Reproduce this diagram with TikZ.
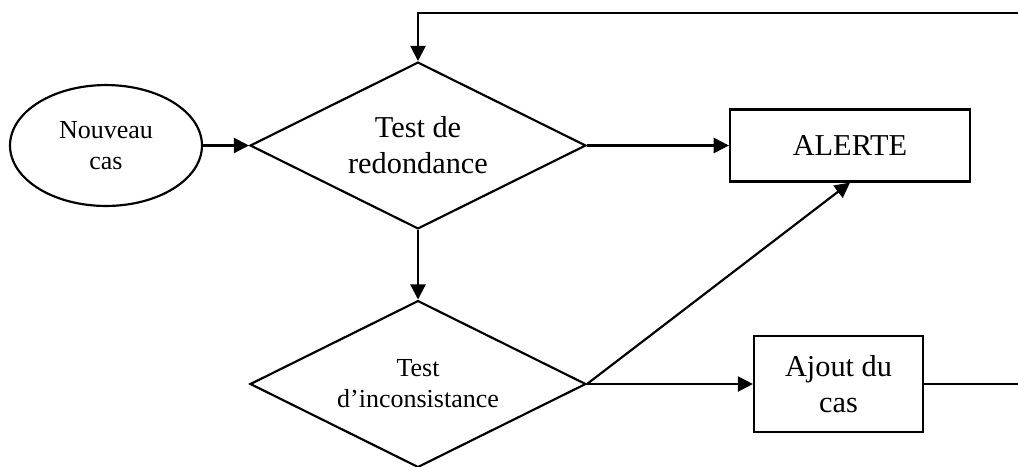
\documentclass[tikz,border=0pt]{standalone}
\usepackage{fontspec}
\setmainfont{Liberation Serif}
\usetikzlibrary{shapes.geometric,arrows.meta}
\newcommand{\smalltxt}{\fontsize{12pt}{14.3pt}\selectfont}
\newcommand{\bigtxt}{\fontsize{14pt}{16.6pt}\selectfont}

\begin{document}
\begin{tikzpicture}[x=0.4615pt, y=-0.4615pt, line width=1pt,
  >={Triangle[length=7pt,width=7pt]},
  testnode/.style={diamond, draw, inner sep=0pt, aspect=2, minimum width=155pt, minimum height=77pt, align=center},
  boxnode/.style={rectangle, draw, inner sep=0pt, align=center, font=\bigtxt}]
\useasboundingbox (0,0) rectangle (1018,466);
\node[ellipse, draw, inner sep=0pt, minimum width=88.6pt, minimum height=55.8pt, align=center, font=\smalltxt] (nouveau) at (106,145.5) {Nouveau\\cas};
\node[testnode, font=\bigtxt] (redond) at (418,145.5) {Test de\\redondance};
\node[testnode, font=\smalltxt] (incons) at (418,384) {Test\\d’inconsistance};
\node[boxnode, minimum width=110.8pt, minimum height=33.2pt] (alerte) at (850,145.5) {ALERTE};
\node[boxnode, minimum width=78pt, minimum height=44.3pt] (ajout) at (838.5,384) {Ajout du\\cas};
\coordinate (bordbas) at (1018,384);
\coordinate (bordhaut) at (1018,12.7);
\draw[->] (nouveau) -- (redond);
\draw[->] (redond) -- (alerte);
\draw[->] (redond) -- (incons);
\draw[->] (incons) -- (ajout);
\draw[->] (incons.east) -- (alerte.south);
\draw (ajout) -- (bordbas);
\draw[->] (bordhaut) -| (redond.north);
\end{tikzpicture}
\end{document}
